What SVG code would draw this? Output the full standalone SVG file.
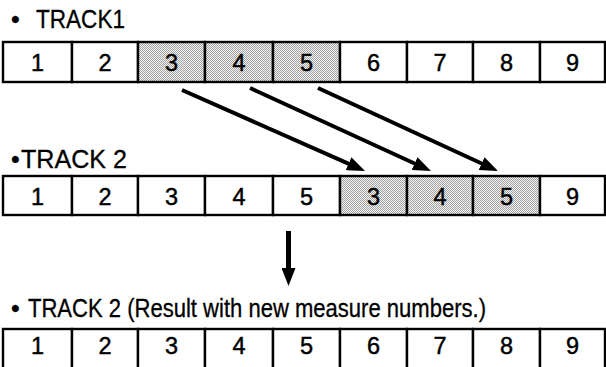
<svg xmlns="http://www.w3.org/2000/svg" width="606" height="367" viewBox="0 0 606 367">
<style>
.cell{fill:#fff;stroke:#000;stroke-width:2.4}
.sh{fill:url(#dots)}
.num{font-family:"Liberation Sans",Arial,sans-serif;font-size:23.5px;text-anchor:middle;fill:#000;stroke:#000;stroke-width:0.45}
.lbl{font-family:"Liberation Sans",Arial,sans-serif;font-size:25px;fill:#000;stroke:#000;stroke-width:0.3}
.conn{stroke:#000;stroke-width:4;fill:none;marker-end:url(#ah)}
</style>
<defs>
<pattern id="dots" width="2" height="2" patternUnits="userSpaceOnUse">
<rect width="2" height="2" fill="#f6f6f6"/>
<rect width="1" height="1" fill="#a0a0a0"/>
<rect x="1" y="1" width="1" height="1" fill="#a0a0a0"/>
</pattern>
<marker id="ah" markerUnits="userSpaceOnUse" markerWidth="18" markerHeight="14" refX="9" refY="7" orient="auto">
<path d="M0,0 L18,7 L0,14 z" fill="#000"/>
</marker>
</defs>

<g id="label1"><text class="lbl" y="28"><tspan x="11">•</tspan><tspan x="36" textLength="89" lengthAdjust="spacingAndGlyphs">TRACK1</tspan></text></g>
<g id="track1">
<g id="t1c1"><rect class="cell" x="3" y="42" width="69" height="40"/><text class="num" x="37.5" y="71">1</text></g>
<g id="t1c2"><rect class="cell" x="72" y="42" width="66" height="40"/><text class="num" x="105" y="71">2</text></g>
<g id="t1c3"><rect class="cell sh" x="138" y="42" width="67" height="40"/><text class="num" x="171.5" y="71">3</text></g>
<g id="t1c4"><rect class="cell sh" x="205" y="42" width="68" height="40"/><text class="num" x="239" y="71">4</text></g>
<g id="t1c5"><rect class="cell sh" x="273" y="42" width="67" height="40"/><text class="num" x="306.5" y="71">5</text></g>
<g id="t1c6"><rect class="cell" x="340" y="42" width="67" height="40"/><text class="num" x="373.5" y="71">6</text></g>
<g id="t1c7"><rect class="cell" x="407" y="42" width="66" height="40"/><text class="num" x="440" y="71">7</text></g>
<g id="t1c8"><rect class="cell" x="473" y="42" width="67" height="40"/><text class="num" x="506.5" y="71">8</text></g>
<g id="t1c9"><rect class="cell" x="540" y="42" width="65" height="40"/><text class="num" x="572.5" y="71">9</text></g>
</g>

<g id="label2"><text class="lbl" y="168"><tspan x="11">•</tspan><tspan x="21" textLength="106" lengthAdjust="spacingAndGlyphs">TRACK 2</tspan></text></g>
<g id="track2">
<g id="t2c1"><rect class="cell" x="3" y="176" width="69" height="39"/><text class="num" x="37.5" y="205">1</text></g>
<g id="t2c2"><rect class="cell" x="72" y="176" width="66" height="39"/><text class="num" x="105" y="205">2</text></g>
<g id="t2c3"><rect class="cell" x="138" y="176" width="67" height="39"/><text class="num" x="171.5" y="205">3</text></g>
<g id="t2c4"><rect class="cell" x="205" y="176" width="68" height="39"/><text class="num" x="239" y="205">4</text></g>
<g id="t2c5"><rect class="cell" x="273" y="176" width="67" height="39"/><text class="num" x="306.5" y="205">5</text></g>
<g id="t2c6"><rect class="cell sh" x="340" y="176" width="67" height="39"/><text class="num" x="373.5" y="205">3</text></g>
<g id="t2c7"><rect class="cell sh" x="407" y="176" width="66" height="39"/><text class="num" x="440" y="205">4</text></g>
<g id="t2c8"><rect class="cell sh" x="473" y="176" width="67" height="39"/><text class="num" x="506.5" y="205">5</text></g>
<g id="t2c9"><rect class="cell" x="540" y="176" width="65" height="39"/><text class="num" x="572.5" y="205">9</text></g>
</g>

<g id="label3"><text class="lbl" y="317"><tspan x="11">•</tspan><tspan x="28" textLength="458" lengthAdjust="spacingAndGlyphs">TRACK 2 (Result with new measure numbers.)</tspan></text></g>
<g id="track3">
<g id="t3c1"><rect class="cell" x="3" y="329" width="69" height="40"/><text class="num" x="37.5" y="354">1</text></g>
<g id="t3c2"><rect class="cell" x="72" y="329" width="66" height="40"/><text class="num" x="105" y="354">2</text></g>
<g id="t3c3"><rect class="cell" x="138" y="329" width="67" height="40"/><text class="num" x="171.5" y="354">3</text></g>
<g id="t3c4"><rect class="cell" x="205" y="329" width="68" height="40"/><text class="num" x="239" y="354">4</text></g>
<g id="t3c5"><rect class="cell" x="273" y="329" width="67" height="40"/><text class="num" x="306.5" y="354">5</text></g>
<g id="t3c6"><rect class="cell" x="340" y="329" width="67" height="40"/><text class="num" x="373.5" y="354">6</text></g>
<g id="t3c7"><rect class="cell" x="407" y="329" width="66" height="40"/><text class="num" x="440" y="354">7</text></g>
<g id="t3c8"><rect class="cell" x="473" y="329" width="67" height="40"/><text class="num" x="506.5" y="354">8</text></g>
<g id="t3c9"><rect class="cell" x="540" y="329" width="65" height="40"/><text class="num" x="572.5" y="354">9</text></g>
</g>

<g id="connectors">
<line class="conn" x1="182" y1="90" x2="356.8" y2="167.4"/>
<line class="conn" x1="250" y1="88" x2="422.8" y2="167.3"/>
<line class="conn" x1="318" y1="88" x2="489.8" y2="167.3"/>
<line class="conn" x1="288.5" y1="231" x2="288.5" y2="277" style="stroke-width:5"/>
</g>
</svg>
